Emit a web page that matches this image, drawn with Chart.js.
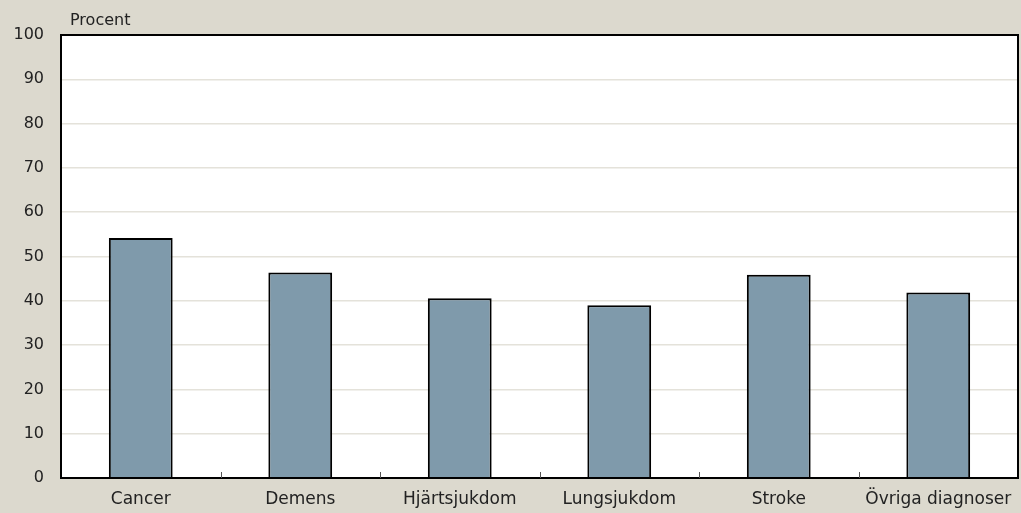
<!DOCTYPE html>
<html>
<head>
<meta charset="utf-8">
<script src="https://cdn.jsdelivr.net/npm/chart.js@4/dist/chart.umd.min.js"></script>
<style>
html,body{margin:0;padding:0;background:#dcd9ce;}
#wrap{width:1021px;height:513px;position:relative;}
</style>
</head>
<body>
<div id="wrap"><canvas id="c" width="1021" height="513"></canvas></div>
<script>
const categories = ["Cancer", "Demens", "Hjärtsjukdom", "Lungsjukdom", "Stroke", "Övriga diagnoser"];
const values = [54.2, 46.4, 40.6, 39.0, 45.9, 41.9];
const yTicks = [0, 10, 20, 30, 40, 50, 60, 70, 80, 90, 100];
const yTitle = "Procent";

const FONT = "'DejaVu Sans', sans-serif";

const framePlugin = {
  id: 'frame',
  beforeDraw(chart) {
    const {ctx, chartArea: a} = chart;
    ctx.save();
    ctx.fillStyle = '#ffffff';
    ctx.fillRect(a.left, a.top, a.right - a.left, a.bottom - a.top);
    ctx.restore();
  },
  afterDraw(chart) {
    const {ctx, chartArea: a} = chart;
    const xs = chart.scales.x;
    ctx.save();
    ctx.strokeStyle = '#000';
    ctx.lineWidth = 2;
    ctx.strokeRect(a.left, a.top, a.right - a.left, a.bottom - a.top);
    ctx.lineWidth = 1;
    ctx.strokeStyle = '#555';
    for (let i = 1; i < categories.length; i++) {
      const x = Math.round((xs.getPixelForValue(i - 1) + xs.getPixelForValue(i)) / 2) + 0.5;
      ctx.beginPath();
      ctx.moveTo(x, a.bottom);
      ctx.lineTo(x, a.bottom - 6);
      ctx.stroke();
    }
    ctx.fillStyle = '#222';
    ctx.font = "16px " + FONT;
    ctx.textAlign = 'left';
    ctx.textBaseline = 'alphabetic';
    ctx.fillText(yTitle, a.left + 9, a.top - 10);
    ctx.restore();
  }
};

new Chart(document.getElementById('c'), {
  type: 'bar',
  data: {
    labels: categories,
    datasets: [{
      data: values,
      backgroundColor: '#7f9aab',
      borderColor: '#000000',
      borderWidth: 2,
      barPercentage: 0.4,
      categoryPercentage: 1.0
    }]
  },
  options: {
    responsive: false,
    animation: false,
    layout: {padding: {top: 35, right: 3, left: 0, bottom: 0}},
    plugins: {legend: {display: false}, tooltip: {enabled: false}},
    scales: {
      x: {
        grid: {display: false, drawTicks: false},
        border: {display: false},
        ticks: {color: '#222', font: {family: FONT, size: 17}, padding: 11, maxRotation: 0, autoSkip: false},
        afterFit(s) { s.height = 35; s.paddingLeft = 0; s.paddingRight = 0; }
      },
      y: {
        min: 0, max: 100,
        afterBuildTicks(s) { s.ticks = yTicks.map(v => ({value: v})); },
        grid: {color: '#e4e2da', lineWidth: 1.5, drawTicks: false},
        border: {display: false},
        ticks: {color: '#222', font: {family: FONT, size: 16}, padding: 17},
        afterFit(s) { s.width = 61; s.paddingTop = 0; s.paddingBottom = 0; }
      }
    }
  },
  plugins: [framePlugin]
});
</script>
</body>
</html>
